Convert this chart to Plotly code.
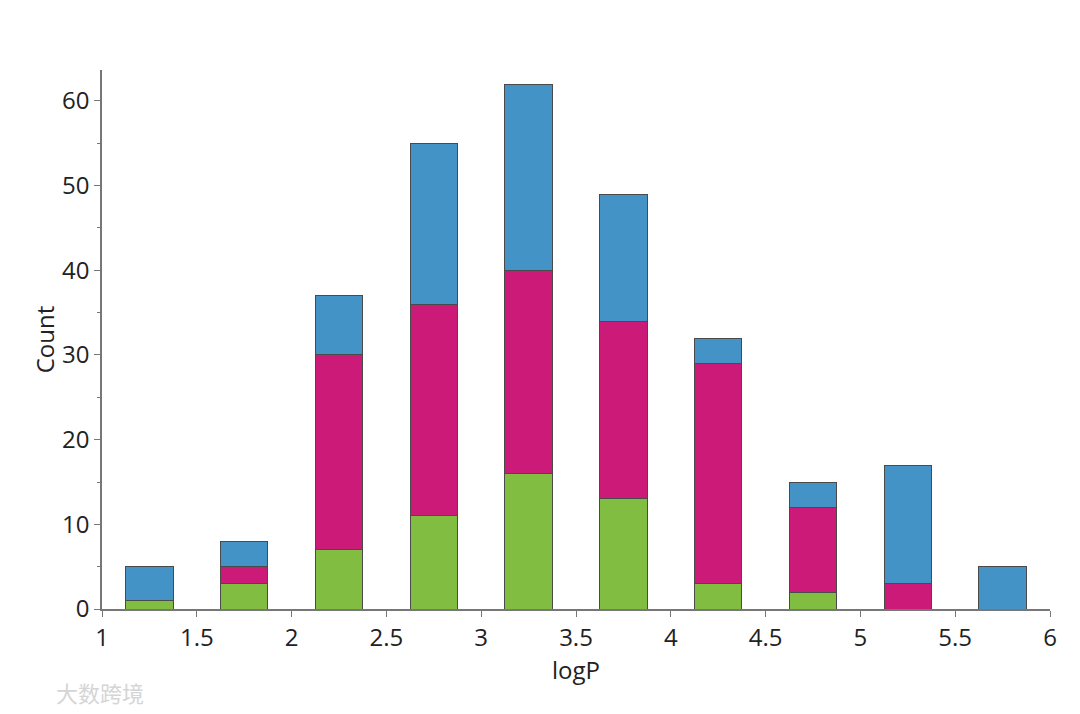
import plotly.graph_objects as go

bin_centers = [1.25, 1.75, 2.25, 2.75, 3.25, 3.75, 4.25, 4.75, 5.25, 5.75]
green_counts = [1, 3, 7, 11, 16, 13, 3, 2, 0, 0]
magenta_counts = [0, 2, 23, 25, 24, 21, 26, 10, 3, 0]
blue_counts = [4, 3, 7, 19, 22, 15, 3, 3, 14, 5]

series = [
    ("Group A", green_counts, "#80BD41"),
    ("Group B", magenta_counts, "#CC1A78"),
    ("Group C", blue_counts, "#4393C6"),
]

fig = go.Figure()
for name, vals, color in series:
    fig.add_trace(go.Bar(
        x=bin_centers, y=vals, name=name, width=0.25,
        marker=dict(color=color, line=dict(color="#4a4a4a", width=1)),
    ))

axis_font = dict(family="Open Sans", size=24, color="#222222")
fig.update_layout(
    barmode="stack",
    width=1080, height=714,
    margin=dict(l=94, r=38, t=62, b=113, autoexpand=False),
    plot_bgcolor="white", paper_bgcolor="white",
    showlegend=False,
    font=axis_font,
    xaxis=dict(
        range=[1, 6], tickmode="linear", tick0=1, dtick=0.5,
        showgrid=False, zeroline=False, showline=True, linecolor="#777777", linewidth=1.5,
        ticks="outside", ticklen=6, tickcolor="#777777",
        tickfont=axis_font, automargin=False,
        title=dict(text="logP", font=axis_font, standoff=3),
    ),
    yaxis=dict(
        range=[0, 63.66], tickmode="linear", tick0=0, dtick=10,
        showgrid=False, zeroline=False, showline=True, linecolor="#777777", linewidth=1.5,
        ticks="outside", ticklen=6, tickcolor="#777777",
        minor=dict(dtick=5, ticks="outside", ticklen=3, tickcolor="#777777"),
        tickfont=axis_font, automargin=False,
        title=dict(text="Count", font=axis_font, standoff=1),
    ),
)

fig.add_annotation(
    text="大数跨境", xref="paper", yref="paper", x=-0.051, y=-0.154,
    xanchor="left", yanchor="middle", showarrow=False,
    font=dict(family="Noto Sans CJK SC", size=22, color="#d5d5d5"),
)

fig.write_html("out.html")
